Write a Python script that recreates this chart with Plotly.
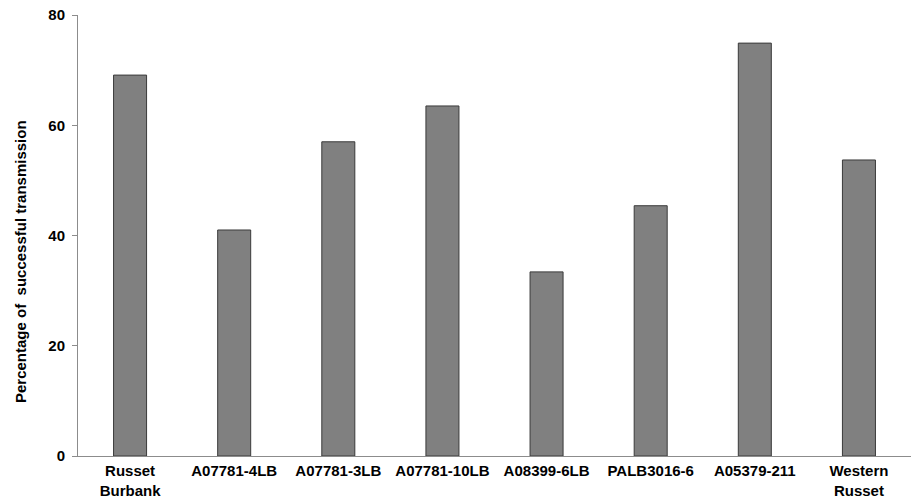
import plotly.graph_objects as go

categories = ["Russet<br>Burbank", "A07781-4LB", "A07781-3LB", "A07781-10LB",
              "A08399-6LB", "PALB3016-6", "A05379-211", "Western<br>Russet"]
values = [69.1, 41.0, 57.0, 63.5, 33.4, 45.4, 74.9, 53.7]
y_ticks = [0, 20, 40, 60, 80]

FONT = "Liberation Sans, Arial, sans-serif"

W, H = 911, 499
L, T, B = 78, 15, 499 - 456
plot_w = W - L
plot_h = H - T - B

fig = go.Figure()
fig.add_trace(go.Bar(
    x=categories, y=values,
    marker=dict(color="#808080", line=dict(color="#3a3a3a", width=1)),
    width=0.317,
))

fig.update_layout(
    width=W, height=H,
    margin=dict(l=L, r=0, t=T, b=B, autoexpand=False),
    paper_bgcolor="white", plot_bgcolor="white",
    showlegend=False,
    font=dict(family=FONT, size=15, color="black"),
    xaxis=dict(
        showline=True, linecolor="#8c8c8c", linewidth=1,
        ticks="", showgrid=False, zeroline=False,
        tickfont=dict(family=FONT, size=15, color="black", weight="bold"),
        range=[-0.5, 7.5], automargin=False, ticklabelstandoff=1,
        ticklabeloverflow="allow",
    ),
    yaxis=dict(
        range=[0, 80], tickvals=y_ticks,
        showline=True, linecolor="#8c8c8c", linewidth=1,
        ticks="outside", ticklen=5, tickcolor="#8c8c8c",
        showgrid=False, zeroline=False, automargin=False,
        ticklabelstandoff=4, ticklabeloverflow="allow",
        tickfont=dict(family=FONT, size=15, color="black", weight="bold"),
    ),
    annotations=[dict(
        text="Percentage of \u00a0successful transmission",
        xref="paper", yref="paper",
        x=(20 - 78) / plot_w, y=(456 - 262) / plot_h,
        xanchor="center", yanchor="middle",
        textangle=-90, showarrow=False,
        font=dict(family=FONT, size=15, color="black", weight="bold"),
    )],
)

fig.write_html(
    "out.html",
    config={"displayModeBar": False},
    post_script="document.body.style.margin='0';document.body.style.overflow='hidden';",
)
